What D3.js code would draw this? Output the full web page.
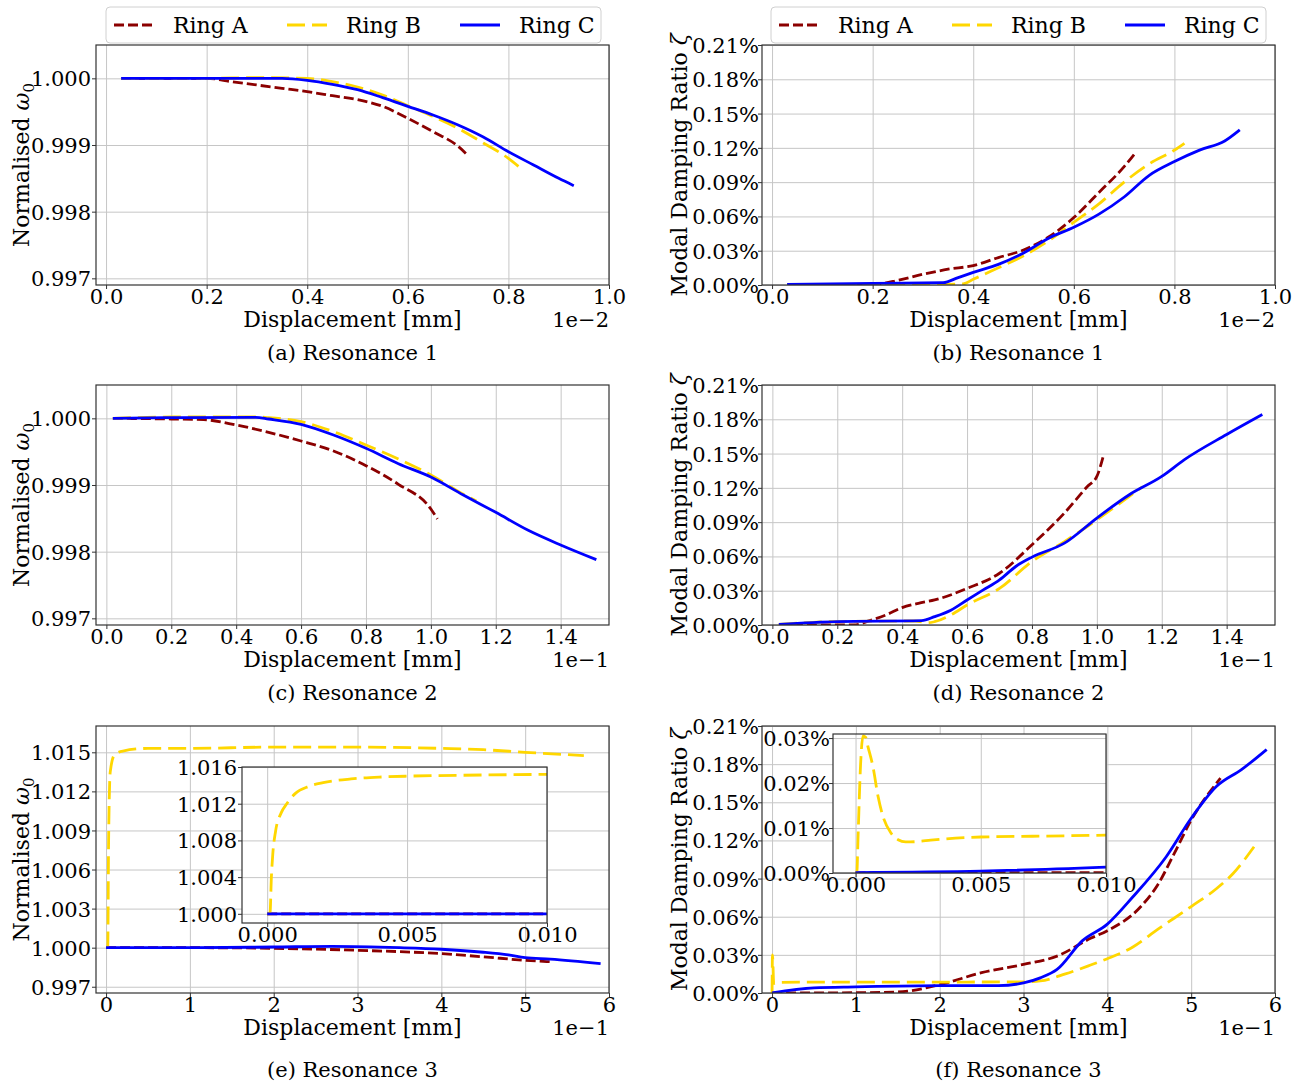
<!DOCTYPE html>
<html>
<head>
<meta charset="utf-8">
<script src="https://cdn.jsdelivr.net/npm/d3@7"></script>
<style>
  body { margin: 0; background: #fff; }
  text { font-family: "DejaVu Serif", serif; fill: #000; }
</style>
</head>
<body>
<div id="container"></div>
<script>
// ------ Data ------
const rings = ["Ring A", "Ring B", "Ring C"];
const ringColors = ["#8b0000", "#ffd700", "#0000ff"];
const ringDash = ["10,4", "18,7", null];

// Resonance 1, x in 1e-2 mm
const r1FreqA = [[0.03,1.0],[0.1,1.0],[0.2,1.0],[0.25,0.99995],[0.3,0.9999],[0.35,0.99985],[0.4,0.9998],[0.45,0.99974],[0.5,0.99968],[0.55,0.99958],[0.6,0.9994],[0.65,0.9992],[0.7,0.99898],[0.72,0.99884]];
const r1FreqB = [[0.03,1.0],[0.2,1.0],[0.3,1.00001],[0.4,1.0],[0.45,0.99995],[0.5,0.99987],[0.55,0.99975],[0.6,0.99959],[0.65,0.99943],[0.7,0.99925],[0.75,0.99903],[0.8,0.9988],[0.82,0.99868]];
const r1FreqC = [[0.03,1.0],[0.1,1.0],[0.2,1.0],[0.3,1.0],[0.35,1.0],[0.4,0.99997],[0.45,0.99991],[0.5,0.99983],[0.55,0.99971],[0.6,0.99958],[0.65,0.99945],[0.7,0.9993],[0.75,0.99912],[0.8,0.9989],[0.85,0.9987],[0.9,0.9985],[0.93,0.99839]];
const r1DampA = [[0.03,0.0],[0.2,0.0005],[0.25,0.004],[0.3,0.0094],[0.35,0.0138],[0.4,0.017],[0.45,0.024],[0.5,0.0306],[0.55,0.042],[0.6,0.059],[0.65,0.081],[0.7,0.1035],[0.72,0.1143]];
const r1DampB = [[0.03,0.0005],[0.35,0.0006],[0.38,0.001],[0.4,0.005],[0.45,0.015],[0.5,0.0256],[0.55,0.0388],[0.6,0.055],[0.65,0.071],[0.7,0.09],[0.75,0.106],[0.8,0.118],[0.82,0.124]];
const r1DampC = [[0.03,0.0006],[0.2,0.0015],[0.34,0.002],[0.37,0.0065],[0.4,0.011],[0.45,0.018],[0.5,0.028],[0.55,0.041],[0.6,0.0505],[0.65,0.062],[0.7,0.077],[0.75,0.096],[0.8,0.108],[0.85,0.118],[0.9,0.126],[0.93,0.1357]];

// Resonance 2, x in 1e-1 mm
const r2FreqA = [[0.02,1.0],[0.2,0.99999],[0.3,0.99998],[0.4,0.9999],[0.5,0.99979],[0.6,0.99966],[0.7,0.99951],[0.8,0.99929],[0.9,0.99901],[1.0,0.99864],[1.02,0.99849]];
const r2FreqB = [[0.02,1.0],[0.2,1.00002],[0.46,1.00002],[0.5,1.00001],[0.6,0.99995],[0.7,0.9998],[0.8,0.9996],[0.9,0.99939],[1.0,0.99915],[1.1,0.99886],[1.14,0.99876]];
const r2FreqC = [[0.02,1.0],[0.2,1.00001],[0.46,1.000015],[0.5,0.99999],[0.6,0.99991],[0.7,0.99975],[0.8,0.99955],[0.9,0.99932],[1.0,0.99912],[1.1,0.99885],[1.2,0.99859],[1.3,0.99832],[1.4,0.9981],[1.51,0.99788]];
const r2DampA = [[0.02,0.0],[0.25,0.0],[0.3,0.0038],[0.35,0.0088],[0.4,0.0152],[0.45,0.019],[0.5,0.0219],[0.6,0.032],[0.7,0.0453],[0.8,0.0702],[0.9,0.098],[0.97,0.121],[1.0,0.13],[1.02,0.148]];
const r2DampB = [[0.02,0.0006],[0.2,0.003],[0.44,0.0035],[0.48,0.002],[0.5,0.0029],[0.55,0.0088],[0.6,0.0175],[0.7,0.032],[0.8,0.0556],[0.9,0.073],[1.0,0.092],[1.1,0.1126],[1.14,0.1208]];
const r2DampC = [[0.02,0.0006],[0.2,0.003],[0.46,0.0038],[0.5,0.0073],[0.55,0.013],[0.6,0.0219],[0.65,0.0307],[0.7,0.0395],[0.75,0.0512],[0.8,0.0594],[0.9,0.0716],[1.0,0.0936],[1.1,0.114],[1.2,0.13],[1.27,0.1447],[1.4,0.1667],[1.51,0.1842]];

// Resonance 3, x in 1e-1 mm
const r3FreqA = [[0,1.0],[1,1.0],[2,0.99995],[3,0.9998],[4,0.99954],[4.5,0.9993],[5,0.99903],[5.3,0.99892]];
const r3FreqB = [[0,1.0],[0.02,1.0],[0.03,1.008],[0.05,1.0135],[0.1,1.0148],[0.2,1.0151],[0.5,1.0153],[1,1.0153],[2,1.0154],[3,1.0154],[4,1.0153],[4.5,1.0152],[5,1.015],[5.7,1.01475]];
const r3FreqC = [[0,1.0],[1,1.0],[2,1.00005],[2.7,1.0001],[3.5,1.0],[4,0.99988],[4.5,0.99965],[4.8,0.99944],[5,0.99923],[5.3,0.99912],[5.9,0.99877]];
const r3DampA = [[0,0.0],[1,0.0002],[1.5,0.0008],[2,0.0065],[2.5,0.016],[3,0.0225],[3.4,0.029],[3.8,0.043],[4,0.049],[4.4,0.068],[4.6,0.085],[4.8,0.11],[5,0.136],[5.35,0.169]];
const r3DampB = [[0,0.0],[0.005,0.03],[0.02,0.0075],[0.05,0.0078],[0.1,0.0084],[0.5,0.0086],[1,0.0086],[2,0.0086],[3,0.0088],[3.2,0.0095],[3.5,0.015],[3.8,0.022],[4,0.027],[4.3,0.036],[4.6,0.05],[5,0.068],[5.3,0.082],[5.5,0.094],[5.75,0.115]];
const r3DampC = [[0,0.0],[0.5,0.004],[1,0.0048],[2,0.0058],[2.7,0.0058],[3,0.0079],[3.2,0.0119],[3.4,0.0185],[3.7,0.041],[4,0.0542],[4.3,0.0753],[4.7,0.107],[5,0.1374],[5.3,0.1624],[5.6,0.1757],[5.9,0.1915]];

// Resonance 3 insets, x in mm
const inFreqA = [[0,1.0],[0.01,1.0]];
const inFreqB = [[0,1.0],[0.0001,1.0],[0.00015,1.004],[0.0002,1.0065],[0.0003,1.009],[0.0005,1.011],[0.0007,1.012],[0.001,1.0131],[0.0015,1.0139],[0.002,1.0143],[0.003,1.0147],[0.004,1.0149],[0.005,1.015],[0.007,1.0151],[0.01,1.0152]];
const inFreqC = [[0,1.0],[0.01,1.0]];
const inDampA = [[0,0.0],[0.01,0.0001]];
const inDampB = [[0,0.0],[0.00005,0.0],[0.0001,0.008],[0.0002,0.024],[0.0003,0.0305],[0.0004,0.0302],[0.0005,0.028],[0.0007,0.0235],[0.0009,0.017],[0.0011,0.0125],[0.0014,0.009],[0.0017,0.0074],[0.002,0.0069],[0.0025,0.007],[0.003,0.0073],[0.005,0.008],[0.0075,0.0082],[0.01,0.0084]];
const inDampC = [[0,0.0001],[0.005,0.0004],[0.01,0.0013]];

// ticks
const freqTicks = [0.997, 0.998, 0.999, 1.000];
const freq3Ticks = [0.997, 1.000, 1.003, 1.006, 1.009, 1.012, 1.015];
const dampTicks = [0, 0.03, 0.06, 0.09, 0.12, 0.15, 0.18, 0.21];
const res1Ticks = [0, 0.2, 0.4, 0.6, 0.8, 1.0];
const res2Ticks = [0, 0.2, 0.4, 0.6, 0.8, 1.0, 1.2, 1.4];
const res3Ticks = [0, 1, 2, 3, 4, 5, 6];
const inFreqTicks = [1.000, 1.004, 1.008, 1.012, 1.016];
const inDampTicks = [0, 0.01, 0.02, 0.03];
const inXTicks = [0, 0.005, 0.01];

// ------ Layout ------
const width = 1304, height = 1086;
const cols = [{x0: 96, x1: 609, lab: 29}, {x0: 762, x1: 1275, lab: 687}];
const rows = [{y0: 45, y1: 285, cap: 75}, {y0: 385, y1: 625, cap: 75}, {y0: 726, y1: 993, cap: 84}];
const tickFont = 21;

const svg = d3.select('#container').append('svg')
  .attr('width', width)
  .attr('height', height)
  .style('background', '#fff');

const fmtFreq = d => d.toFixed(3);
const fmtPct = d => d.toFixed(2) + '%';
let clipN = 0;

function drawAxes(g, x, y, o) {
  const [x0, x1] = x.range(), [y1, y0] = y.range();
  g.append('rect').attr('x', x0).attr('y', y0).attr('width', x1 - x0).attr('height', y1 - y0).attr('fill', '#fff');

  // grid
  g.append('g').attr('transform', `translate(0,${y1})`)
    .call(d3.axisBottom(x).tickValues(o.xTicks).tickSize(-(y1 - y0)).tickFormat(''))
    .call(s => { s.select('.domain').remove(); s.selectAll('line').attr('stroke', '#c6c6c6').attr('stroke-width', 1); });
  g.append('g').attr('transform', `translate(${x0},0)`)
    .call(d3.axisLeft(y).tickValues(o.yTicks).tickSize(-(x1 - x0)).tickFormat(''))
    .call(s => { s.select('.domain').remove(); s.selectAll('line').attr('stroke', '#c6c6c6').attr('stroke-width', 1); });

  // series
  const id = 'clip' + (clipN++);
  g.append('clipPath').attr('id', id).append('rect')
    .attr('x', x0).attr('y', y0).attr('width', x1 - x0).attr('height', y1 - y0);
  const line = d3.line().x(d => x(d[0])).y(d => y(d[1])).curve(d3.curveMonotoneX);
  g.append('g').attr('clip-path', `url(#${id})`)
    .selectAll('path').data(o.series).enter().append('path')
    .attr('d', d => line(d))
    .attr('fill', 'none')
    .attr('stroke', (d, i) => ringColors[i])
    .attr('stroke-width', 2.8)
    .attr('stroke-dasharray', (d, i) => ringDash[i]);

  // frame
  g.append('rect').attr('x', x0).attr('y', y0).attr('width', x1 - x0).attr('height', y1 - y0)
    .attr('fill', 'none').attr('stroke', '#333').attr('stroke-width', 1.2);

  // ticks and labels
  g.append('g').attr('transform', `translate(0,${y1})`)
    .call(d3.axisBottom(x).tickValues(o.xTicks).tickFormat(o.xFmt).tickSize(4).tickSizeOuter(0))
    .call(s => {
      s.select('.domain').remove();
      s.attr('color', '#333').attr('font-family', null).attr('font-size', tickFont);
      s.selectAll('text').attr('y', 19).attr('dy', null).style('fill', '#000');
    });
  g.append('g').attr('transform', `translate(${x0},0)`)
    .call(d3.axisLeft(y).tickValues(o.yTicks).tickFormat(o.yFmt).tickSize(4).tickSizeOuter(0))
    .call(s => {
      s.select('.domain').remove();
      s.attr('color', '#333').attr('font-family', null).attr('font-size', tickFont);
      s.selectAll('text').attr('x', o.yPad).attr('dy', '0.36em').style('fill', '#000');
    });
}

function drawPanel(c, r, o) {
  const col = cols[c], row = rows[r];
  const g = svg.append('g');
  const x = d3.scaleLinear().domain(o.xDom).range([col.x0, col.x1]);
  const y = d3.scaleLinear().domain(o.yDom).range([row.y1, row.y0]);
  drawAxes(g, x, y, Object.assign({yPad: c === 0 ? -5 : -3}, o));

  const cx = (col.x0 + col.x1) / 2;
  g.append('text').attr('x', cx).attr('y', row.y1 + 42)
    .attr('text-anchor', 'middle').attr('font-size', 22).text('Displacement [mm]');
  g.append('text').attr('x', col.x1).attr('y', row.y1 + 42)
    .attr('text-anchor', 'end').attr('font-size', 21).text(o.offset);
  g.append('text').attr('x', cx).attr('y', row.y1 + row.cap)
    .attr('text-anchor', 'middle').attr('font-size', 21).text(o.caption);

  const yl = g.append('text')
    .attr('transform', `translate(${col.lab},${(row.y0 + row.y1) / 2}) rotate(-90)`)
    .attr('text-anchor', 'middle').attr('font-size', 22);
  if (c === 0) {
    yl.append('tspan').text('Normalised ');
    yl.append('tspan').attr('font-style', 'italic').text('ω');
    yl.append('tspan').attr('font-size', 15).attr('dy', 5).text('0');
  } else {
    yl.append('tspan').text('Modal Damping Ratio ');
    yl.append('tspan').attr('font-style', 'italic').text('ζ');
  }

  if (o.inset) {
    const ins = o.inset;
    const ix = d3.scaleLinear().domain(ins.xDom).range([ins.x0, ins.x1]);
    const iy = d3.scaleLinear().domain(ins.yDom).range([ins.y1, ins.y0]);
    drawAxes(svg.append('g'), ix, iy, ins);
  }
}

function drawLegend(left) {
  const g = svg.append('g').attr('transform', `translate(${left},7)`);
  g.append('rect').attr('width', 495).attr('height', 36).attr('rx', 4)
    .attr('fill', '#fff').attr('fill-opacity', 0.8).attr('stroke', '#d0d0d0');
  const item = g.selectAll('.item').data(rings).enter().append('g')
    .attr('transform', (d, i) => `translate(${i * 173},0)`);
  item.append('line').attr('x1', 8).attr('x2', 48).attr('y1', 18).attr('y2', 18)
    .attr('stroke', (d, i) => ringColors[i]).attr('stroke-width', 2.8)
    .attr('stroke-dasharray', (d, i) => ringDash[i]);
  item.append('text').attr('x', 67).attr('y', 26).attr('font-size', 22).text(d => d);
}

const res1X = [-0.02, 1.0], res2X = [-0.032, 1.549], res3X = [-0.12, 6];
const freqY = [0.9969, 1.0005], dampY = [0, 0.21];

drawPanel(0, 0, {xDom: res1X, yDom: freqY, xTicks: res1Ticks, yTicks: freqTicks, xFmt: d3.format('.1f'), yFmt: fmtFreq,
  series: [r1FreqA, r1FreqB, r1FreqC], offset: '1e\u22122', caption: '(a) Resonance 1'});
drawPanel(1, 0, {xDom: res1X, yDom: dampY, xTicks: res1Ticks, yTicks: dampTicks, xFmt: d3.format('.1f'), yFmt: fmtPct,
  series: [r1DampA, r1DampB, r1DampC], offset: '1e\u22122', caption: '(b) Resonance 1'});
drawPanel(0, 1, {xDom: res2X, yDom: freqY, xTicks: res2Ticks, yTicks: freqTicks, xFmt: d3.format('.1f'), yFmt: fmtFreq,
  series: [r2FreqA, r2FreqB, r2FreqC], offset: '1e\u22121', caption: '(c) Resonance 2'});
drawPanel(1, 1, {xDom: res2X, yDom: dampY, xTicks: res2Ticks, yTicks: dampTicks, xFmt: d3.format('.1f'), yFmt: fmtPct,
  series: [r2DampA, r2DampB, r2DampC], offset: '1e\u22121', caption: '(d) Resonance 2'});
drawPanel(0, 2, {xDom: res3X, yDom: [0.99652, 1.01702], xTicks: res3Ticks, yTicks: freq3Ticks, xFmt: d3.format('d'), yFmt: fmtFreq,
  series: [r3FreqA, r3FreqB, r3FreqC], offset: '1e\u22121', caption: '(e) Resonance 3',
  inset: {x0: 242, x1: 547, y0: 767, y1: 923, xDom: [-0.0009, 0.01], yDom: [0.999, 1.016], xTicks: inXTicks, yTicks: inFreqTicks,
    xFmt: d3.format('.3f'), yFmt: fmtFreq, yPad: -5, series: [inFreqA, inFreqB, inFreqC]}});
drawPanel(1, 2, {xDom: res3X, yDom: dampY, xTicks: res3Ticks, yTicks: dampTicks, xFmt: d3.format('d'), yFmt: fmtPct,
  series: [r3DampA, r3DampB, r3DampC], offset: '1e\u22121', caption: '(f) Resonance 3',
  inset: {x0: 833, x1: 1106, y0: 734, y1: 873, xDom: [-0.0009, 0.01], yDom: [0, 0.0309], xTicks: inXTicks, yTicks: inDampTicks,
    xFmt: d3.format('.3f'), yFmt: fmtPct, yPad: -3, series: [inDampA, inDampB, inDampC]}});

drawLegend(106);
drawLegend(771);
</script>
</body>
</html>
